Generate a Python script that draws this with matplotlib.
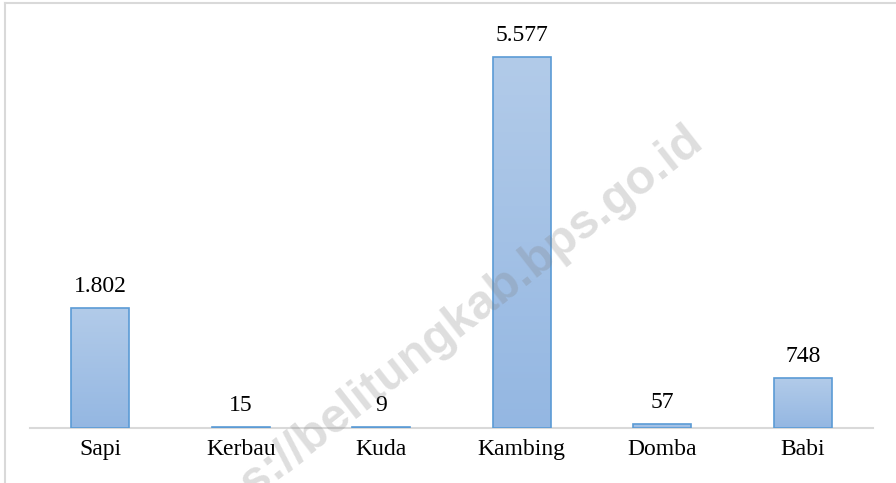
import matplotlib
matplotlib.use("Agg")
import matplotlib.pyplot as plt
import numpy as np
from matplotlib.lines import Line2D

jenis = ["Sapi", "Kerbau", "Kuda", "Kambing", "Domba", "Babi"]
jumlah = [1802, 15, 9, 5577, 57, 748]


def format_titik(n):
    # pemisah ribuan pakai titik
    return "{:,}".format(n).replace(",", ".")


plt.rcParams['font.family'] = ['Liberation Serif', 'DejaVu Serif']

fig = plt.figure(figsize=(8.96, 4.83), dpi=100)
ax = fig.add_axes([30 / 896, 55 / 483, 843 / 896, 1 - 29 / 483 - 55 / 483])

x = np.arange(len(jenis))
bars = ax.bar(x, jumlah, width=0.41, color='none', edgecolor='#5b9bd5', linewidth=1.2, zorder=3)

# isi gradasi untuk tiap batang (terang di atas)
grad = np.linspace(0, 1, 256).reshape(-1, 1)
cmap = matplotlib.colors.LinearSegmentedColormap.from_list('g', ['#b2cbe9', '#94b7e2'])
for b in bars:
    x0, y0 = b.get_x(), b.get_y()
    w, h = b.get_width(), b.get_height()
    im = ax.imshow(grad, extent=[x0, x0 + w, y0, y0 + h], aspect='auto', cmap=cmap,
                   origin='upper', zorder=2)
    im.set_clip_path(b)

for xi, v in zip(x, jumlah):
    ax.annotate(format_titik(v), (xi, v), xytext=(0, 8), textcoords='offset points',
                ha='center', va='bottom', fontsize=17, color='#000000')

ax.set_xlim(-0.5, len(jenis) - 0.5)
ax.set_ylim(0, 6000)
ax.set_xticks(x)
ax.set_xticklabels(jenis, fontsize=17)
ax.tick_params(axis='x', length=0, pad=8)
ax.set_yticks([])
for s in ['top', 'right', 'left']:
    ax.spines[s].set_visible(False)
ax.spines['bottom'].set_color('#d9d9d9')
ax.spines['bottom'].set_linewidth(1.5)
ax.spines['bottom'].set_zorder(1)

# bingkai grafik
fig.add_artist(Line2D([5 / 896, 5 / 896], [0, 1 - 3 / 483], color='#d9d9d9', linewidth=1.5))
fig.add_artist(Line2D([5 / 896, 1], [1 - 3 / 483, 1 - 3 / 483], color='#d9d9d9', linewidth=1.5))

# watermark
fig.text(684 / 896, 1 - 116 / 483, "https://belitungkab.bps.go.id", family=['Liberation Sans', 'DejaVu Sans'],
         fontsize=35, fontweight='bold', color='#808080', alpha=0.26, rotation=38,
         rotation_mode='anchor', ha='right', va='top', zorder=10)

fig.savefig("out.png", dpi=100)
